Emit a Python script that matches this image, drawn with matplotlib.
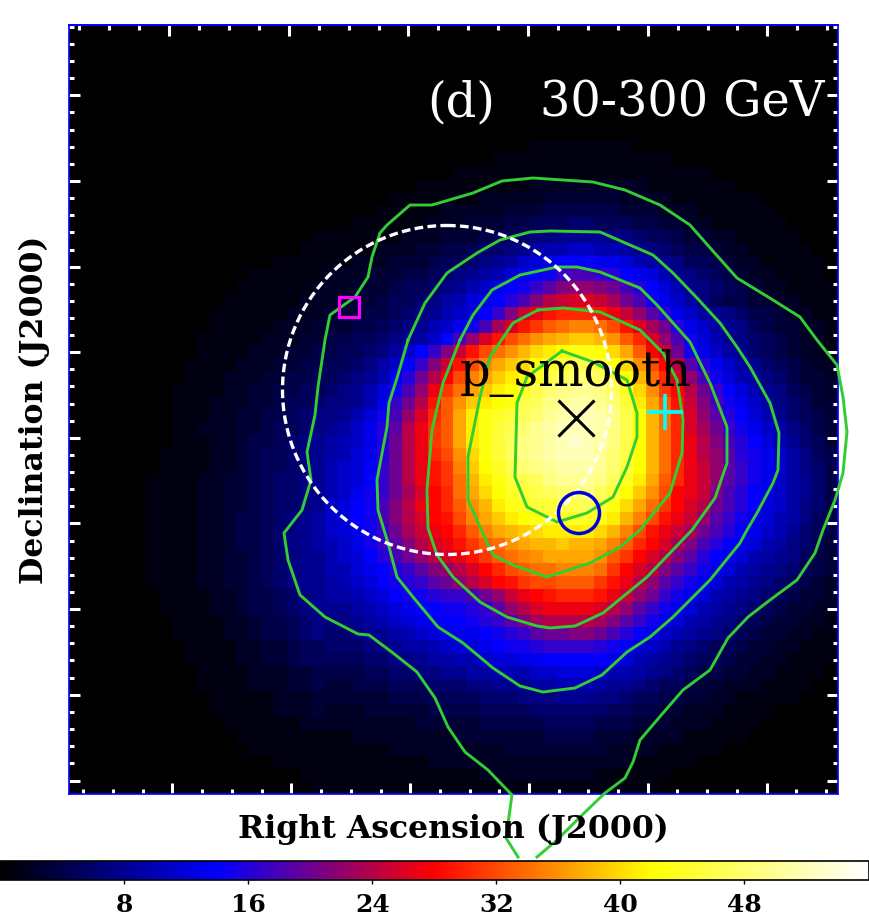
import matplotlib
matplotlib.use("Agg")
import matplotlib.pyplot as plt
from matplotlib.colors import LinearSegmentedColormap
from matplotlib.patches import Circle, Rectangle
import numpy as np

plt.rcParams['font.family'] = ['DejaVu Serif', 'DejaVu Sans']

# counts map (top row first)
flux_rows = [
    [0] * 60, [0] * 60, [0] * 60, [0] * 60, [0] * 60, [0] * 60, [0] * 60, [0] * 60, [0] * 60,
    [0]*36 + [1,1,1,1, 1,1,1,1] + [0]*16,
    [0]*33 + [1,1,1,1,1,1,1, 1,1,1,1,1,1,1] + [0]*13,
    [0]*30 + [1]*20 + [0]*10,
    [0]*27 + [1,1,1, 1,1,1,1,1,1,2,2,2,2, 2,2,2,2,2,1,1,1,1,1, 1,1] + [0]*8,
    [0]*25 + [1,1,1,1,1, 1,1,2,2,2,2,2,3,3,3, 3,3,3,2,2,2,2,1,1,1, 1,1,1,1] + [0]*6,
    [0]*24 + [1,1,1,1,1,2, 2,2,2,2,3,3,3,4,4,4, 4,4,4,3,3,3,2,2,2,1, 1,1,1,1,1] + [0]*5,
    [0]*22 + [1,1,1,1,1,1,2,2, 2,3,3,3,4,4,5,5,5,6, 6,5,5,5,4,4,3,3,2,2, 1,1,1,1,1,1] + [0]*4,
    [0]*19 + [1, 1,1,1,1,1,1,2,2,2,3, 3,3,4,5,5,6,7,7,8,8, 8,8,7,7,6,5,5,4,3,3, 2,2,1,1,1,1,1,0,0,0],
    [0]*18 + [1,1, 1,1,1,1,2,2,2,3,3,4, 4,5,6,6,7,8,9,10,10,11, 11,10,10,9,8,7,6,5,4,4, 3,2,2,1,1,1,1,1,0,0],
    [0]*16 + [1,1,1,1, 1,1,2,2,2,3,3,3,4,5, 5,6,7,8,9,11,12,13,14,14, 14,13,13,12,10,9,8,7,5,5, 4,3,2,2,1,1,1,1,1,0],
    [0]*14 + [1,1,1,1,1,1, 2,2,2,3,3,3,4,4,5,6, 7,8,9,10,12,13,14,15,17,18, 18,17,16,14,13,12,10,8,7,6, 5,4,3,2,2,1,1,1,1,0],
    [0]*13 + [1,1,1,1,1,1,2, 2,2,3,3,3,4,5,5,6,7, 8,10,11,13,14,15,17,19,21,22, 22,21,20,18,16,14,12,10,8,7, 6,5,4,3,2,2,1,1,1,1],
    [0]*12 + [1,1,1,1,1,1,2,2, 2,3,3,3,4,5,5,6,7,9, 10,12,13,14,16,18,21,24,25,26, 26,25,23,20,18,15,13,11,9,7, 5,4,4,3,3,2,2,1,1,1],
    [0]*11 + [1,1,1,1,1,1,2,2,2, 3,3,3,4,4,5,6,7,8,10, 11,12,14,17,21,25,27,29,30,30, 30,29,27,25,22,19,16,13,11,9, 8,7,6,4,4,3,2,2,1,1],
    [0]*11 + [1,1,1,1,1,2,2,2,3, 3,3,4,4,5,6,7,8,10,11, 13,15,18,23,26,29,31,33,34,35, 35,34,32,29,26,23,20,16,13,11, 9,8,7,5,4,3,3,2,2,1],
    [0]*10 + [1,1,1,1,1,2,2,2,3,3, 4,4,5,5,6,7,8,9,11,14, 18,22,26,29,32,34,36,37,38,39, 39,38,36,33,30,26,22,18,15,12, 10,8,7,6,5,4,3,2,2,1],
    [0]*10 + [1,1,1,1,2,2,2,3,3,4, 4,5,5,6,7,9,11,14,17,21, 25,29,32,34,36,38,40,41,42,43, 43,42,40,37,33,28,25,20,15,13, 11,9,8,6,5,4,3,2,2,1],
    [0]*9 + [1, 1,1,1,2,2,2,3,3,4,4, 5,5,6,7,9,11,14,17,21,25, 29,32,35,37,39,40,42,44,45,46, 46,45,43,40,36,32,28,24,19,16, 13,11,9,8,6,5,4,3,2,2],
    [0]*9 + [1, 1,1,2,2,2,3,3,4,4,5, 5,6,7,8,10,13,16,20,24,28, 32,35,37,39,41,42,44,46,47,48, 48,47,45,42,38,34,30,26,22,18, 15,12,10,9,7,6,4,3,3,2],
    [0]*8 + [1,1, 1,1,2,2,3,3,4,4,5,5, 6,7,8,10,12,15,18,22,27,31, 34,37,39,41,42,44,46,48,49,50, 50,49,47,44,40,36,31,28,24,20, 17,14,12,10,8,7,5,4,3,2],
    [0]*8 + [1,1, 1,2,2,2,3,3,4,5,5,6, 7,7,8,10,13,17,20,24,29,33, 36,39,41,42,43,46,47,49,50,51, 51,50,48,45,41,37,33,29,25,21, 18,15,13,11,9,7,6,5,3,3],
    [0]*8 + [1,1, 1,2,2,3,3,4,4,5,6,7, 7,8,10,12,15,18,22,26,30,33, 37,41,43,44,45,47,48,50,51,52, 52,51,49,46,42,38,34,30,26,22, 19,16,14,12,10,8,6,5,4,3],
    [0]*8 + [1,1, 2,2,2,3,3,4,5,5,6,7, 8,9,11,13,16,19,24,27,31,33, 37,41,43,45,46,48,50,51,52,52, 52,51,49,46,42,38,34,30,26,23, 20,17,15,13,11,9,7,6,4,3],
    [0]*8 + [1,1, 1,2,2,3,4,4,5,6,7,8, 9,10,11,13,16,20,24,27,31,33, 37,41,43,45,47,49,50,51,52,53, 52,51,49,46,42,38,34,30,27,24, 21,18,16,14,12,10,8,6,5,3],
    [0]*7 + [1,1,1, 1,2,2,3,4,5,5,6,7,8, 9,10,12,13,16,20,24,27,30,32, 36,40,43,45,47,49,50,51,52,52, 52,50,48,46,42,38,34,30,27,24, 22,19,16,15,13,11,9,7,5,4],
    [0]*7 + [1,1,1, 1,2,2,3,4,5,5,6,7,8, 10,11,12,14,17,20,24,27,29,31, 35,39,42,44,46,48,49,50,51,51, 51,50,48,45,42,38,34,30,27,25, 22,19,17,15,13,11,9,7,6,4],
    [0]*6 + [1,1,1,1, 2,2,3,3,4,5,6,6,7,8, 10,11,12,14,17,20,24,27,29,31, 34,38,41,43,45,46,47,49,50,50, 50,49,47,44,41,37,33,30,27,25, 22,19,17,15,13,11,9,8,6,4],
    [0]*6 + [1,1,1,1, 2,2,3,3,4,5,6,6,7,8, 10,11,13,15,17,20,23,26,28,30, 34,37,40,42,44,45,46,47,48,48, 49,47,45,42,39,36,32,28,27,25, 21,18,16,14,13,11,9,8,6,4],
    [0]*6 + [1,1,1,1, 2,2,3,3,4,5,6,6,7,8, 11,12,14,15,18,21,24,27,28,30, 33,36,38,41,43,44,45,45,46,46, 47,45,43,40,37,34,31,28,26,24, 20,18,16,14,12,11,9,7,6,4],
    [0]*6 + [1,1,1,1, 2,2,3,4,4,5,6,7,8,9, 11,12,14,15,18,21,24,26,28,29, 32,35,37,39,41,42,43,44,44,44, 44,43,41,38,35,32,29,27,25,22, 19,17,15,13,12,10,9,7,5,4],
    [0]*6 + [1,1,1,1, 2,2,3,4,4,5,6,7,8,9, 11,12,13,15,17,20,23,25,27,28, 30,33,35,37,38,39,40,41,41,41, 41,40,38,35,32,29,27,25,23,20, 18,16,14,13,11,10,8,6,5,4],
    [0]*6 + [1,1,1,1, 2,2,3,4,4,5,6,7,8,9, 10,11,13,15,17,19,21,24,26,27, 29,31,33,34,36,37,38,38,39,38, 38,37,35,33,30,28,26,23,21,18, 16,14,13,12,10,9,7,6,5,3],
    [0]*6 + [1,1,1,1, 2,2,3,3,4,5,6,7,8,8, 10,11,12,14,16,18,20,22,24,26, 27,29,31,33,34,35,36,37,37,37, 37,36,33,31,28,26,24,21,19,16, 14,13,12,10,9,8,7,5,4,3],
    [0]*6 + [1,1,1,1, 2,2,3,3,4,5,6,7,8,8, 10,10,12,13,14,16,17,19,21,22, 24,26,28,30,32,33,34,34,35,35, 35,34,31,28,26,24,21,19,17,15, 13,12,10,9,8,7,6,5,4,3],
    [0]*6 + [1,1,1,1, 2,2,3,3,4,5,6,7,8,8, 9,10,11,12,14,15,16,17,19,20, 22,24,26,28,29,31,32,32,33,33, 33,31,29,27,24,22,19,17,15,13, 12,10,9,8,7,6,5,4,3,2],
    [0]*7 + [1,1,1, 1,2,2,3,4,4,5,6,7,8, 9,9,10,11,12,14,15,15,16,17, 17,18,20,22,25,27,28,29,30,30, 30,29,27,25,22,20,17,15,13,12, 10,9,8,7,6,5,4,3,3,2],
    [0]*7 + [1,1,1, 1,2,2,3,4,4,5,6,7,8, 8,8,9,10,11,12,13,14,14,15, 15,16,17,19,22,24,26,27,27,27, 27,26,24,22,19,17,15,13,12,10, 9,8,7,6,5,4,3,3,2,2],
    [0]*8 + [1,1, 1,1,2,2,3,4,4,5,6,7, 7,7,8,9,10,11,12,13,13,14, 14,15,16,17,19,21,23,24,24,24, 24,23,21,19,17,15,13,12,10,9, 8,7,6,5,4,3,3,2,2,1],
    [0]*8 + [1,1, 1,1,2,2,3,4,4,5,6,7, 6,6,7,8,8,9,10,11,12,13, 13,13,14,15,16,17,19,20,20,21, 21,20,18,16,14,13,11,10,9,8, 7,6,5,4,3,3,2,2,1,1],
    [0]*9 + [1, 1,1,1,2,2,3,3,4,5,5, 6,6,6,7,7,8,9,9,10,11, 12,12,13,14,15,15,16,17,17,17, 17,16,15,14,12,11,10,8,7,6, 5,5,4,3,3,2,2,1,1,1],
    [0]*9 + [1, 1,1,1,2,2,3,3,4,5,5, 5,5,5,6,6,7,7,8,9,9, 10,10,11,12,12,13,13,14,14,14, 14,14,13,12,10,9,8,7,6,5, 5,4,3,3,2,2,1,1,1,1],
    [0]*10 + [1,1,1,1,2,2,2,3,3,4, 4,4,4,5,5,6,6,7,7,8, 8,9,9,10,10,10,11,11,12,12, 12,11,10,10,9,8,7,6,5,4, 4,3,3,2,2,1,1,1,1,0],
    [0]*10 + [1,1,1,1,2,2,2,3,3,4, 3,3,4,4,4,5,5,5,6,6, 6,7,7,8,8,8,9,9,10,10, 10,9,8,8,7,6,5,5,4,3, 3,2,2,2,1,1,1,1,0,0],
    [0]*11 + [1,1,1,1,1,2,2,2,3, 3,3,3,3,3,4,4,4,5,5, 5,5,6,6,6,7,7,7,8,8, 8,7,7,6,5,5,4,4,3,3, 2,2,1,1,1,1,1,0,0,0],
    [0]*11 + [1,1,1,1,1,2,2,2,3, 2,2,2,3,3,3,3,3,4,4, 4,4,5,5,5,5,6,6,6,6, 6,6,5,5,4,4,3,3,2,2, 2,1,1,1,1,0,0,0,0,0],
    [0]*12 + [1,1,1,1,1,1,2,2, 2,2,2,2,2,2,2,3,3,3, 3,3,4,4,4,4,4,5,5,5, 5,4,4,4,3,3,3,2,2,2, 1,1,1,1,0,0,0,0,0,0],
    [0]*13 + [1,1,1,1,1,1,1, 1,1,2,2,2,2,2,2,2,2, 3,3,3,3,3,3,3,4,4,4, 4,3,3,3,2,2,2,2,1,1, 1,1,1,0,0,0,0,0,0,0],
    [0]*14 + [1,1,1,1,1,1, 1,1,1,1,1,2,2,2,2,2, 2,2,2,2,3,3,3,3,3,3, 3,3,2,2,2,2,1,1,1,1, 1,0,0,0,0,0,0,0,0,0],
    [0]*16 + [1,1,1,1, 1,1,1,1,1,1,1,1,2,2, 2,2,2,2,2,2,2,2,2,2, 2,2,2,2,1,1,1,1,1,0, 0,0,0,0,0,0,0,0,0,0],
    [0]*18 + [1,1, 1,1,1,1,1,1,1,1,1,1, 1,1,2,2,2,2,2,2,2,2, 2,1,1,1,1,1,1,0,0,0, 0,0,0,0,0,0,0,0,0,0],
    [0]*19 + [1, 1,1,1,1,1,1,1,1,1,1, 1,1,1,1,1,1,1,1,1,1, 1,1,1,1,1,1,0,0,0,0, 0,0,0,0,0,0,0,0,0,0],
]

# contour lines
contour_outer = [
    (518,857), (506,838), (512,795), (488,770), (465,752), (448,727), (435,698), (417,672),
    (393,653), (369,635), (358,634), (325,617), (300,595), (288,560), (284,533), (302,510),
    (311,480), (307,452), (315,415), (318,387), (325,340), (330,315), (355,297), (368,277),
    (372,257), (380,233), (387,225), (410,205), (432,205), (473,193), (502,181), (533,178),
    (593,182), (625,190), (660,205), (690,225), (712,250), (737,278), (773,300), (800,317),
    (817,340), (837,365), (843,397), (847,432), (843,473), (835,500), (823,530), (815,553),
    (797,580), (770,600), (748,617), (728,638), (710,670), (683,690), (663,713), (640,740),
    (633,762), (625,778), (605,793), (580,817), (557,840), (537,857),
]
contour_2 = [
    (408,340), (425,303), (447,273), (477,253), (500,240), (530,232), (550,231), (600,232),
    (653,255), (673,273), (697,298), (720,323), (737,347), (750,367), (770,403), (779,433),
    (778,470), (773,483), (757,513), (747,530), (740,543), (710,580), (673,617), (650,637),
    (627,652), (602,675), (575,688), (543,692), (520,686), (493,668), (463,643), (438,627),
    (413,597), (397,577), (388,543), (378,510), (377,480), (387,427), (389,403), (397,378),
    (408,340),
]
contour_3 = [
    (460,340), (473,315), (492,290), (520,275), (557,267), (577,267), (600,272), (640,288),
    (657,305), (690,342), (710,383), (727,427), (727,463), (715,498), (692,530), (647,577),
    (603,613), (575,626), (550,628), (537,626), (507,617), (480,602), (453,577), (437,555),
    (428,528), (427,490), (432,430), (443,383), (460,340),
]
contour_4 = [
    (538,310), (563,308), (600,312), (640,330), (663,353), (677,380), (683,420), (682,453),
    (670,493), (640,530), (620,547), (590,563), (547,577), (513,565), (493,555), (480,527),
    (468,500), (468,457), (480,397), (490,357), (513,323), (538,310),
]
contour_5 = [
    (562,351), (593,362), (627,380), (637,413), (637,437), (627,467), (613,497), (587,513),
    (557,522), (527,507), (515,477), (517,403), (527,377), (562,351),
]
contours = [contour_outer, contour_2, contour_3, contour_4, contour_5]

x_major_bottom = [172.4, 291.4, 410, 529, 648, 767]
x_minor_bottom = [83, 113, 143, 202, 232, 262, 321, 351, 381, 440, 470, 499, 559, 588, 618, 677, 707, 737, 796, 826]
x_major_top = [169, 289, 408, 528, 648, 767]
x_minor_top = [79, 109, 139, 199, 229, 259, 319, 349, 379, 438, 468, 498, 558, 588, 618, 678, 708, 737, 797, 827]
y_major = [95, 181, 267, 352, 438, 523, 609, 695, 781]
y_minor = [27, 44, 61, 78, 112, 130, 147, 164, 198, 215, 232, 250, 284, 301, 318, 335, 369, 386, 404, 421,
           455, 472, 489, 506, 541, 558, 575, 592, 626, 643, 660, 678, 712, 729, 746, 763]
cbar_ticks = [8, 16, 24, 32, 40, 48]

W, H = 869, 919
fig = plt.figure(figsize=(W / 100, H / 100), dpi=100)
ax = fig.add_axes([69 / W, (H - 794) / H, 769 / W, 769 / H])

cmap = LinearSegmentedColormap.from_list(
    'bb', [(0, 'black'), (0.25, 'blue'), (0.5, 'red'), (0.75, 'yellow'), (1, 'white')], N=256)
im = ax.imshow(np.array(flux_rows), cmap=cmap, vmin=0, vmax=56, interpolation='nearest',
               extent=(69, 838, 794, 25), aspect='auto')

for line in contours:
    pts = np.array(line)
    ax.plot(pts[:, 0], pts[:, 1], color='#32cd32', lw=2.1, clip_on=False, zorder=3)

ax.add_patch(Circle((447, 390), 164.5, fill=False, ec='white', lw=2.4, ls=(0, (2.6, 1.3)), zorder=4))
ax.add_patch(Rectangle((339, 297), 20, 20, fill=False, ec='#ff00ff', lw=2.3, zorder=5))
ax.add_patch(Circle((579, 513), 20.5, fill=False, ec='#0000dd', lw=2.5, zorder=5))
ax.plot([576], [418], marker='x', ms=26, mew=2.2, color='black', zorder=5)
ax.plot([665], [412], marker='+', ms=26, mew=2.6, color='cyan', zorder=5)

ax.text(427, 103, '(d)', color='white', fontsize=34.5, va='center', ha='left')
ax.text(825, 103, '30-300 GeV', color='white', fontsize=34.5, va='center', ha='right')
ax.text(576, 373, 'p_smooth', color='black', fontsize=34.5, va='center', ha='center', zorder=4)

ax.set_xlim(69, 838)
ax.set_ylim(794, 25)
ax.set_xticks(x_major_bottom, labels=[])
ax.set_xticks(x_minor_bottom, minor=True)
ax.set_yticks(y_major, labels=[])
ax.set_yticks(y_minor, minor=True)
ax.tick_params(which='major', direction='in', color='white', length=8, width=2.2, left=True, right=True)
ax.tick_params(which='minor', direction='in', color='white', length=3.5, width=2.2, left=True, right=True)

top = ax.secondary_xaxis('top')
top.set_xticks(x_major_top, labels=[])
top.set_xticks(x_minor_top, minor=True)
top.tick_params(which='major', direction='in', color='white', length=8, width=2.2)
top.tick_params(which='minor', direction='in', color='white', length=3.5, width=2.2)
top.spines['top'].set_color('blue')
top.spines['top'].set_linewidth(1.2)

for spine in ax.spines.values():
    spine.set_color('blue')
    spine.set_linewidth(1.2)

fig.text(453 / W, 1 - 829 / H, 'Right Ascension (J2000)', fontsize=22.7, fontweight='bold', ha='center', va='center', zorder=1)
fig.text(34 / W, 1 - 410 / H, 'Declination (J2000)', fontsize=22.7, fontweight='bold', rotation=90, ha='center', va='center')

cax = fig.add_axes([0, (H - 880) / H, 868.5 / W, 19 / H])
cbar = fig.colorbar(im, cax=cax, orientation='horizontal', ticks=cbar_ticks)
cbar.outline.set_linewidth(1.2)
cbar.ax.tick_params(length=3, width=1, pad=6)
for label in cbar.ax.get_xticklabels():
    label.set_fontsize(18)
    label.set_fontweight('bold')

fig.savefig('out.png', dpi=100)
